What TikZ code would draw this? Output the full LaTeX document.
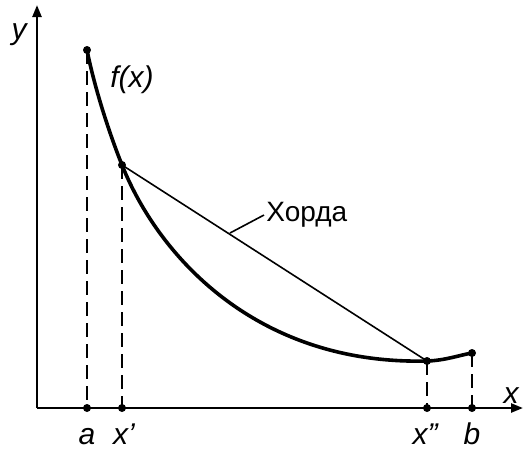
\documentclass[tikz,border=0pt]{standalone}
\usepackage{fontspec}
\setmainfont{Liberation Sans}
\usetikzlibrary{arrows.meta}
\tikzset{
  axis/.style={line width=1.2pt,-{Triangle[length=6pt,width=4.5pt]}},
  func/.style={line width=1.8pt},
  chord/.style={line width=0.8pt},
  guide/.style={line width=1pt,dash pattern=on 7pt off 3.5pt},
  lbl/.style={font=\fontsize{15}{17}\selectfont\itshape,inner sep=0pt},
  txt/.style={font=\fontsize{14}{16}\selectfont,inner sep=1pt}
}

\begin{document}
\begin{tikzpicture}[x=0.5pt,y=-0.5pt]
  \useasboundingbox (0,0) rectangle (524,452);
  \coordinate (O) at (37,408);
  \coordinate (ytop) at (37,5);
  \coordinate (xend) at (523,408);
  \draw[axis] (O) -- (ytop);
  \draw[axis] (O) -- (xend);
  % points on f(x)
  \coordinate (A) at (87,50);
  \coordinate (P1) at (122,165);
  \coordinate (P2) at (427,361);
  \coordinate (B) at (472,353);
  % feet on the x axis
  \coordinate (fa) at (87,408);
  \coordinate (f1) at (122,408);
  \coordinate (f2) at (427,408);
  \coordinate (fb) at (472,408);
  \draw[guide] (A) -- (fa);
  \draw[guide] (P1) -- (f1);
  \draw[guide] (P2) -- (f2);
  \draw[guide] (B) -- (fb);
  \draw[func] (A) .. controls (95,90) and (110,135) .. (P1)
    .. controls (160,260) and (260,365) .. (P2)
    .. controls (445,360.5) and (460,355) .. (B);
  \draw[chord] (P1) -- (P2);
  \foreach \p in {A,P1,P2,B,fa,f1,f2,fb}
    \fill (\p) circle[radius=2pt];
  % labels
  \node[lbl] (ylab) at (19,35) {y};
  \node[lbl] (flab) at (132,80) {f(x)};
  \node[lbl] (xlab) at (511,396) {x};
  \node[lbl,anchor=base] (alab) at (87,444) {a};
  \node[lbl,anchor=base] (x1lab) at (124,444) {x'};
  \node[lbl,anchor=base] (x2lab) at (425,444) {x''};
  \node[lbl,anchor=base] (blab) at (472,444) {b};
  \coordinate (lead) at (230,233);
  \node[txt,anchor=west] (hord) at (264,215) {Хорда};
  \draw[chord] (lead) -- (hord.west);
\end{tikzpicture}
\end{document}
